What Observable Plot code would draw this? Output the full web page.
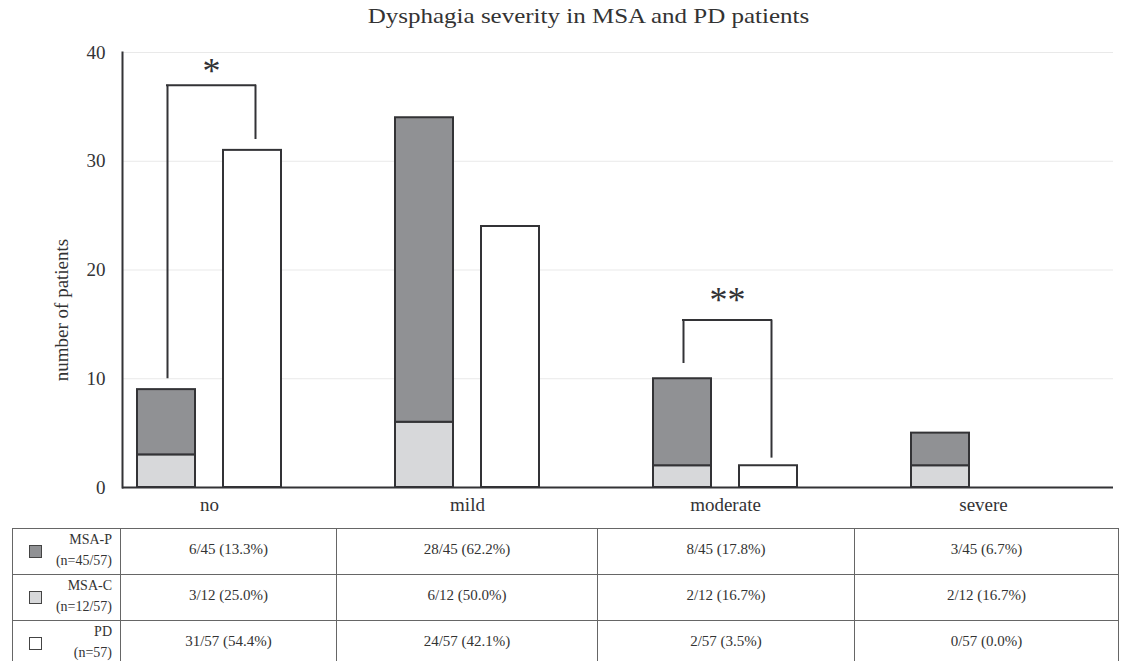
<!DOCTYPE html>
<html><head><meta charset="utf-8">
<script src="https://cdn.jsdelivr.net/npm/d3@7"></script>
<script src="https://cdn.jsdelivr.net/npm/@observablehq/plot@0.6"></script>
<style>
body{margin:0;background:#fff;font-family:"Liberation Serif","Times New Roman",serif;color:#333;}
#wrap{position:relative;width:1140px;height:661px;overflow:hidden;background:#fff;}
#title{position:absolute;top:3px;left:0;width:1176px;text-align:center;line-height:26px;}
#title span{display:inline-block;font-size:21px;color:#333;transform:scaleX(1.19);}
#ylab{position:absolute;left:62px;top:310px;width:0;height:0;}
#ylab span{position:absolute;left:0;top:0;white-space:nowrap;font-size:19px;color:#333;transform:translate(-50%,-50%) rotate(-90deg);}
#chart{position:absolute;top:30px;left:0;}
#tbl{position:absolute;top:528px;left:12px;border-collapse:collapse;table-layout:fixed;font-size:15px;color:#333;}
#tbl td{border:1.5px solid #666;height:44px;box-sizing:border-box;padding:0 0 5px 0;text-align:center;vertical-align:middle;}
#tbl td.lab{position:relative;text-align:right;padding:0 8px 3px 0;line-height:21px;font-size:14px;}
.sw{position:absolute;left:16px;top:50%;width:11px;height:11px;margin-top:-7px;border:1px solid #444;}
</style></head>
<body><div id="wrap">
<div id="title"><span>Dysphagia severity in MSA and PD patients</span></div>
<div id="chart"></div>
<div id="ylab"><span>number of patients</span></div>
<table id="tbl"><colgroup><col style="width:108px"><col style="width:216px"><col style="width:261px"><col style="width:257px"><col style="width:264px"></colgroup><tbody></tbody></table>
</div>
<script>
const categories = ["no", "mild", "moderate", "severe"];
const msaC = [3, 6, 2, 2];
const msaP = [6, 28, 8, 3];
const pd = [31, 24, 2, 0];
const yTicks = [0, 10, 20, 30, 40];
const groups = ["MSA-P", "MSA-C", "PD"];
const groupColors = ["#909194", "#d7d8da", "#ffffff"];
const groupTotals = [45, 12, 57];
const groupN = ["(n=45/57)", "(n=12/57)", "(n=57)"];
// significance brackets: left arm bottom, right arm bottom, top, asterisk y
const sigCats = ["no", "moderate"];
const sigLabels = ["*", "**"];
const sigLeft = [10, 11.4];
const sigRight = [32, 2.7];
const sigTop = [37, 15.4];
const sigStar = [38.3, 17.2];

const msaRows = categories.flatMap((c, i) => [
  {category: c, type: "MSA-C", n: msaC[i]},
  {category: c, type: "MSA-P", n: msaP[i]}
]);
const pdRows = categories.map((c, i) => ({category: c, type: "PD", n: pd[i]})).filter(d => d.n > 0);
const brackets = sigCats.map((c, i) => ({category: c, label: sigLabels[i], left: sigLeft[i], right: sigRight[i], top: sigTop[i], star: sigStar[i]}));

const ink = "#333336";
const chart = Plot.plot({
  width: 1140, height: 490,
  marginTop: 22, marginBottom: 33, marginLeft: 122, marginRight: 27,
  x: {domain: categories, range: [80, 1112], padding: 0, label: null},
  y: {domain: [0, 40], label: null},
  color: {domain: groups, range: groupColors},
  style: {fontFamily: "Liberation Serif, serif", fontSize: "19px", color: ink, background: "white", overflow: "visible"},
  marks: [
    Plot.ruleY(yTicks.filter(d => d > 0), {stroke: "#e9e9e9", strokeWidth: 1}),
    Plot.axisY({ticks: yTicks, tickSize: 0, tickPadding: 17, label: null, fontSize: 19}),
    Plot.axisX({tickSize: 0, tickPadding: 10, label: null, fontSize: 19}),
    Plot.barY(msaRows, {x: "category", y: "n", fill: "type", stroke: ink, strokeWidth: 2, insetLeft: 57, insetRight: 143}),
    Plot.barY(pdRows, {x: "category", y: "n", fill: "type", stroke: ink, strokeWidth: 2, insetLeft: 143, insetRight: 57}),
    Plot.ruleX(brackets, {x: "category", y1: "left", y2: "top", dx: -42, stroke: ink, strokeWidth: 2}),
    Plot.ruleX(brackets, {x: "category", y1: "right", y2: "top", dx: 46, stroke: ink, strokeWidth: 2}),
    Plot.tickY(brackets, {x: "category", y: "top", insetLeft: 86, insetRight: 82, stroke: ink, strokeWidth: 2}),
    Plot.text(brackets, {x: "category", y: "star", text: "label", dx: 2, fontSize: 36, fill: ink}),
    Plot.ruleY([0], {stroke: ink, strokeWidth: 2}),
    Plot.frame({anchor: "left", stroke: ink, strokeWidth: 2})
  ]
});
document.getElementById("chart").appendChild(chart);

const counts = [msaP, msaC, pd];
const tbody = document.querySelector("#tbl tbody");
groups.forEach((g, gi) => {
  const tr = document.createElement("tr");
  const lab = document.createElement("td");
  lab.className = "lab";
  const sw = document.createElement("span");
  sw.className = "sw";
  sw.style.background = groupColors[gi];
  lab.appendChild(sw);
  lab.appendChild(document.createTextNode(g));
  lab.appendChild(document.createElement("br"));
  lab.appendChild(document.createTextNode(groupN[gi]));
  tr.appendChild(lab);
  counts[gi].forEach(n => {
    const td = document.createElement("td");
    const t = groupTotals[gi];
    td.textContent = `${n}/${t} (${(n / t * 100).toFixed(1)}%)`;
    tr.appendChild(td);
  });
  tbody.appendChild(tr);
});
</script>
</body></html>
